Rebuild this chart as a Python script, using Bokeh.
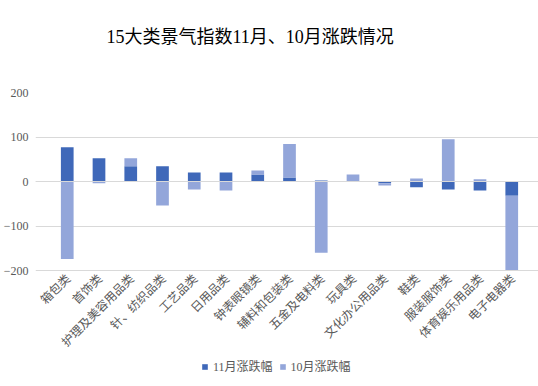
import math
from bokeh.plotting import figure
from bokeh.models import (ColumnDataSource, FactorRange, Range1d, FixedTicker,
                          Span, Legend, LegendItem, Title)
from bokeh.embed import file_html
from bokeh.resources import INLINE

categories = ["箱包类", "首饰类", "护理及美容用品类", "针、纺织品类", "工艺品类",
              "日用品类", "钟表眼镜类", "辅料和包装类", "五金及电料类", "玩具类",
              "文化办公用品类", "鞋类", "服装服饰类", "体育娱乐用品类", "电子电器类"]
nov_change = [77, 52, 34, 34, 20, 20, 16, 9, 2, 0, -4, -13, -18, -20, -32]
oct_change = [-174, -4, 18, -54, -18, -20, 9, 75, -160, 16, -5, 7, 95, 5, -167]
y_ticks = [-200, -100, 0, 100, 200]

DARK = "#3F68B9"
LIGHT = "#93A6DA"
CJK = "Liberation Serif, Noto Sans CJK SC"

# stacked columns: positive and negative parts stack separately
oct_bottom = [n if n * o > 0 else 0 for n, o in zip(nov_change, oct_change)]
oct_top = [b + o for b, o in zip(oct_bottom, oct_change)]

src = ColumnDataSource(dict(cat=categories, nov=nov_change,
                            ob=oct_bottom, ot=oct_top))

# plot area extended downward so that the category labels and the legend
# live inside it; the value scale keeps 178 px per 400 units
PX_PER_UNIT = 178 / 400
FRAME_H = 288
y_top = y_ticks[-1]
y_bottom = y_top - FRAME_H / PX_PER_UNIT

# half a category of padding on each side so the first label is not clipped
n_cat = len(categories)
CAT_PX = 476 / n_cat
FRAME_W = int(round(CAT_PX * (n_cat + 1)))

p = figure(x_range=FactorRange(factors=categories, range_padding=1 / n_cat,
                               range_padding_units="percent"),
           y_range=Range1d(y_bottom, y_top),
           frame_width=FRAME_W, frame_height=FRAME_H,
           output_backend="svg", toolbar_location=None,
           min_border_left=28, min_border_right=0, min_border_top=20,
           min_border_bottom=0)

p.title = Title(text="15大类景气指数11月、10月涨跌情况", align="left", offset=71,
                text_font=CJK, text_font_size="18px", text_font_style="normal",
                text_color="#000000", standoff=49)
# empty spacer between the title and the plot area
p.add_layout(Title(text=" ", text_font_size="1px", standoff=18), "above")

r1 = p.vbar(x="cat", top="nov", bottom=0, width=0.4, fill_color=DARK,
            line_color=None, source=src)
r2 = p.vbar(x="cat", top="ot", bottom="ob", width=0.4, fill_color=LIGHT,
            line_color=None, source=src)

p.add_layout(Span(location=0, dimension="width", line_color="#d9d9d9",
                  line_width=1))

p.outline_line_color = None
p.xgrid.grid_line_color = None
p.ygrid.ticker = FixedTicker(ticks=y_ticks)
p.ygrid.grid_line_color = "#d9d9d9"
p.yaxis.ticker = FixedTicker(ticks=y_ticks)

for ax in (p.xaxis, p.yaxis):
    ax.axis_line_color = None
    ax.major_tick_line_color = None
    ax.minor_tick_line_color = None
    ax.major_tick_out = 0
    ax.major_tick_in = 0
    ax.major_label_text_color = "#595959"
    ax.major_label_text_font_size = "12px"

p.yaxis.major_label_text_font = "Liberation Serif"
p.yaxis.major_label_standoff = 7
p.xaxis.fixed_location = y_ticks[0]
p.xaxis.major_label_text_font = "Noto Sans CJK SC"
p.xaxis.major_label_orientation = math.pi / 4
p.xaxis.major_label_standoff = 5

legend = Legend(items=[LegendItem(label="11月涨跌幅", renderers=[r1]),
                       LegendItem(label="10月涨跌幅", renderers=[r2])],
                orientation="horizontal", location=(166, 5),
                label_text_font=CJK, label_text_font_size="12px",
                label_text_color="#595959", glyph_width=7, glyph_height=7,
                label_standoff=5, spacing=6, padding=2, margin=0,
                border_line_color=None, background_fill_alpha=0)
p.add_layout(legend, "center")

open("out.html", "w").write(file_html(p, INLINE))
